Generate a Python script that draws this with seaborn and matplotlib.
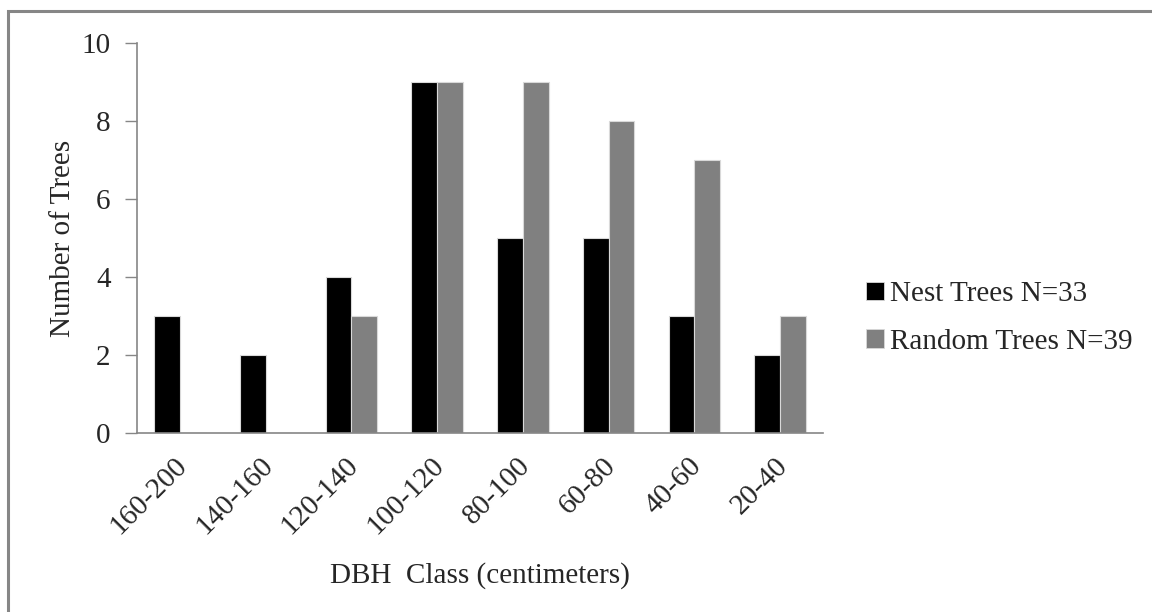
import matplotlib
matplotlib.use("Agg")
from matplotlib import pyplot as plt
from matplotlib.patches import Rectangle
import matplotlib.transforms as mtransforms
import pandas as pd
import seaborn as sns

classes = ['160-200', '140-160', '120-140', '100-120', '80-100', '60-80', '40-60', '20-40']
nest = [3, 2, 4, 9, 5, 5, 3, 2]
random_trees = [0, 0, 3, 9, 9, 8, 7, 3]
series = ['Nest Trees N=33', 'Random Trees N=39']

df = pd.DataFrame({
    'DBH': classes * 2,
    'Count': nest + random_trees,
    'Group': [series[0]] * len(classes) + [series[1]] * len(classes),
})

sns.set_style('white')
plt.rcParams['font.family'] = ['Liberation Serif', 'DejaVu Serif']
FS = 21
GRAY = '#868686'

fig = plt.figure(figsize=(11.52, 6.12), dpi=100)
ax = fig.add_axes([137 / 1152, 1 - 433 / 612, (823 - 137) / 1152, (433 - 43) / 612])

sns.barplot(data=df, x='DBH', y='Count', hue='Group', order=classes, hue_order=series,
            palette=['#000000', '#808080'], width=0.6, edgecolor='#d9d9d9', linewidth=0.8,
            ax=ax, legend=False)

ax.set_ylim(0, 10)
ax.set_xlim(-0.5, len(classes) - 0.5)
ax.set_yticks(range(0, 11, 2))
ax.tick_params(axis='y', length=9, width=1, color=GRAY, pad=10, labelsize=FS, left=True)
ax.tick_params(axis='x', length=0, pad=14, labelsize=FS)
shift = mtransforms.ScaledTranslation(-0.06, 0, fig.dpi_scale_trans)
for lbl in ax.get_xticklabels():
    lbl.set_rotation(45)
    lbl.set_ha('right')
    lbl.set_rotation_mode('anchor')
    lbl.set_transform(lbl.get_transform() + shift)
for s in ['top', 'right']:
    ax.spines[s].set_visible(False)
for s in ['left', 'bottom']:
    ax.spines[s].set_color(GRAY)
    ax.spines[s].set_linewidth(1.2)

ax.set_xlabel('DBH  Class (centimeters)', fontsize=FS, labelpad=16)
ax.set_ylabel('Number of Trees', fontsize=FS, labelpad=4)

handles = [Rectangle((0, 0), 1, 1, facecolor=c, edgecolor='#d9d9d9', linewidth=0.6)
           for c in ['#000000', '#808080']]
fig.legend(handles, series, loc='center left', bbox_to_anchor=(840 / 1152, 1 - 318 / 612),
           frameon=False, fontsize=FS, handlelength=0.6, handleheight=0.6,
           handletextpad=0.2, labelspacing=0.75)

fig.patches.append(Rectangle((8 / 1152, -0.1), 1.2, 1.1 - 11 / 612, transform=fig.transFigure,
                             fill=False, edgecolor=GRAY, linewidth=2.2))

fig.savefig('out.png', dpi=100)
